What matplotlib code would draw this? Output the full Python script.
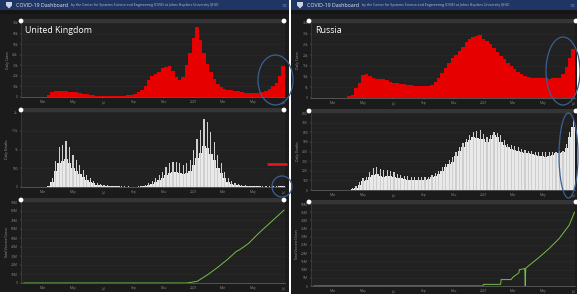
import numpy as np
import matplotlib
matplotlib.use("Agg")
import matplotlib.pyplot as plt
import matplotlib.dates as mdates
from matplotlib.patches import Rectangle, Ellipse, Circle, Polygon

# ---------------- data ----------------
# weekly bins (week starting Monday), Jan 20 2020 .. Jun 28 2021
week_start = "2020-01-20"
n_weeks = 76

uk_cases = [0, 0, 0, 0, 0, 0, 100, 1500, 4500, 5500, 5800, 5800, 5600, 5200, 4800, 4400,
            3900, 3300, 2800, 2200, 1700, 1400, 1200, 1000, 900, 850, 850, 900, 1000, 1200,
            1600, 2200, 3000, 4500, 6500, 10000, 16000, 20000, 22000, 24000, 27000, 28000,
            29000, 25000, 19000, 16000, 19000, 30000, 42000, 56000, 66000, 54000, 42000,
            31000, 24000, 17000, 12000, 9500, 8000, 7000, 6500, 6000, 5500, 4500, 4000, 3800,
            3800, 4000, 4200, 4800, 6000, 8000, 10000, 13000, 20000, 29000]

uk_deaths_peak = [0, 0, 0, 0, 0, 0, 5, 40, 250, 700, 1070, 1110, 1230, 1070, 850, 720, 590,
                  455, 330, 240, 165, 110, 90, 60, 50, 40, 30, 25, 20, 15, 15, 12, 12, 15, 25,
                  50, 100, 150, 240, 325, 410, 545, 630, 675, 675, 630, 590, 630, 720, 980,
                  1290, 1510, 1815, 1730, 1465, 1200, 850, 630, 410, 240, 150, 105, 80, 60, 50,
                  40, 35, 30, 25, 20, 18, 15, 18, 20, 25, 30]
uk_deaths_base = [0, 0, 0, 0, 0, 0, 2, 20, 130, 420, 650, 700, 750, 650, 520, 430, 350, 270,
                  200, 140, 100, 65, 50, 35, 30, 22, 18, 15, 12, 9, 9, 7, 7, 9, 15, 30, 60, 90,
                  145, 200, 250, 330, 380, 410, 410, 380, 350, 380, 430, 590, 780, 910, 1090,
                  1040, 880, 720, 510, 380, 250, 145, 90, 60, 45, 35, 30, 24, 20, 18, 15, 12,
                  10, 9, 10, 12, 15, 18]

ru_cases = [0, 0, 0, 0, 0, 0, 0, 0, 30, 150, 700, 1500, 4500, 7000, 10500, 11400, 10300,
            9300, 9000, 8900, 8800, 8300, 7600, 7000, 6800, 6600, 6300, 6000, 5900, 5700, 5500,
            5400, 5500, 5600, 6000, 7500, 9500, 11500, 14000, 16500, 18500, 20000, 22000,
            24000, 26000, 27500, 28500, 29000, 29500, 27500, 26500, 25000, 23500, 21500,
            19500, 18000, 16500, 15000, 13500, 12000, 11000, 10300, 9800, 9400, 9200, 9100,
            9100, 9100, 9000, 9100, 9100, 9500, 11000, 14500, 18500, 23000]

ru_deaths_peak = [0, 0, 0, 0, 0, 0, 0, 0, 0, 1, 5, 20, 40, 80, 120, 140, 190, 225, 240, 220,
                  207, 205, 200, 185, 170, 155, 150, 145, 140, 135, 130, 130, 135, 140, 155,
                  175, 200, 240, 275, 310, 345, 400, 450, 490, 535, 570, 600, 610, 620, 580,
                  550, 570, 600, 590, 570, 520, 480, 470, 460, 450, 430, 415, 410, 405, 400,
                  400, 400, 400, 400, 400, 400, 405, 410, 480, 600, 725]
ru_deaths_base = [0, 0, 0, 0, 0, 0, 0, 0, 0, 0, 2, 10, 25, 50, 90, 100, 140, 160, 170, 150,
                  140, 145, 145, 135, 125, 120, 115, 105, 100, 100, 100, 100, 105, 115, 130,
                  145, 170, 200, 240, 265, 290, 350, 410, 450, 500, 520, 550, 545, 535, 530,
                  500, 530, 570, 550, 500, 470, 450, 430, 420, 410, 395, 385, 380, 370, 360,
                  355, 350, 345, 350, 360, 380, 385, 390, 440, 550, 655]

# cumulative vaccine doses (millions)
uk_vax_dates = ["2020-01-22", "2020-12-18", "2021-01-08", "2021-01-31", "2021-02-21",
                "2021-03-12", "2021-03-28", "2021-04-04", "2021-04-22", "2021-05-12",
                "2021-06-01", "2021-06-17", "2021-07-03"]
uk_vax = [0, 0, 1.9, 10, 18.5, 27, 35, 37, 44, 55, 65, 73, 81]

ru_vax_dates = ["2020-01-22", "2020-12-30", "2020-12-31", "2021-02-04", "2021-02-05",
                "2021-02-25", "2021-03-01", "2021-03-13", "2021-03-14", "2021-03-25",
                "2021-03-26", "2021-03-27", "2021-04-24", "2021-05-14", "2021-06-03",
                "2021-06-23", "2021-07-04"]
ru_vax = [0, 0, 1.0, 1.0, 3.9, 3.9, 5.4, 8.0, 10.0, 10.6, 0, 10.9, 17.7, 23, 29, 37, 45]

x_tick_dates = ["2020-03-01", "2020-05-01", "2020-07-01", "2020-09-01", "2020-11-01",
                "2021-01-01", "2021-03-01", "2021-05-01", "2021-07-01"]
x_tick_labels = ["Mar", "May", "Jul", "Sep", "Nov", "2021", "Mar", "May", "Jul"]

uk_case_ticks = [0, 10000, 20000, 30000, 40000, 50000, 60000, 70000]
uk_case_labels = ["0", "10k", "20k", "30k", "40k", "50k", "60k", "70k"]
uk_death_ticks = [0, 500, 1000, 1500, 2000]
uk_death_labels = ["0", "500", "1k", "1.5k", "2k"]
uk_vax_ticks = [0, 10, 20, 30, 40, 50, 60, 70, 80, 90]
uk_vax_labels = ["0", "10M", "20M", "30M", "40M", "50M", "60M", "70M", "80M", "90M"]
ru_case_ticks = [0, 5000, 10000, 15000, 20000, 25000, 30000, 35000]
ru_case_labels = ["0", "5k", "10k", "15k", "20k", "25k", "30k", "35k"]
ru_death_ticks = [0, 100, 200, 300, 400, 500, 600, 700, 800]
ru_death_labels = ["0", "100", "200", "300", "400", "500", "600", "700", "800"]
ru_vax_ticks = [0, 5, 10, 15, 20, 25, 30, 35, 40, 45, 50]
ru_vax_labels = ["0", "5M", "10M", "15M", "20M", "25M", "30M", "35M", "40M", "45M", "50M"]

# ---------------- helpers ----------------
W, H = 580, 294
weeks = mdates.date2num(np.datetime64(week_start) + np.arange(n_weeks) * np.timedelta64(7, "D"))
xmin = mdates.date2num(np.datetime64("2020-01-16"))
xmax = mdates.date2num(np.datetime64("2021-07-05"))
xt = mdates.date2num(np.array(x_tick_dates, dtype="datetime64[D]"))

fig = plt.figure(figsize=(W / 100, H / 100), dpi=100, facecolor="white")
plt.rcParams["font.family"] = ["Open Sans", "DejaVu Sans"]

bg = fig.add_axes([0, 0, 1, 1])
bg.set_xlim(0, W)
bg.set_ylim(H, 0)
bg.axis("off")

PANEL = "#1b1b1b"
HEAD = "#1f3563"
for (x0, x1, y1) in [(0, 289, 292), (291, 577, 294)]:
    bg.add_patch(Rectangle((x0, 0), x1 - x0, y1, color=PANEL, lw=0))
    bg.add_patch(Rectangle((x0, 0), x1 - x0, 10, color=HEAD, lw=0))
    bg.add_patch(Rectangle((x0, 10), x1 - x0, 4, color="#141414", lw=0))
    # shield logo
    sx = x0 + 6
    bg.add_patch(Polygon([[sx, 2], [sx + 6, 2], [sx + 6, 5.5], [sx + 3, 8.5], [sx, 5.5]],
                         closed=True, fc="#c9d3e6", ec="none"))
    bg.text(x0 + 16, 5.2, "COVID-19 Dashboard", color="#e8ecf4", fontsize=3.8,
            va="center", ha="left")
    bg.text(x0 + 71, 5.4, "by the Center for Systems Science and Engineering (CSSE) at Johns Hopkins University (JHU)",
            color="#b9c3d8", fontsize=2.5, va="center", ha="left")
    bg.text(x1 - 5, 5.2, "\u2261", color="#5c6f96", fontsize=4.5, va="center", ha="center")


def ax_at(x0, y0, x1, y1):
    return fig.add_axes([x0 / W, 1 - y1 / H, (x1 - x0) / W, (y1 - y0) / H])


def style(ax, yt, yl, ylabel):
    ax.set_facecolor("#212121")
    ax.set_xlim(xmin, xmax)
    ax.set_ylim(0, yt[-1])
    ax.set_yticks(yt)
    ax.set_yticklabels(yl)
    ax.set_xticks(xt)
    ax.set_xticklabels(x_tick_labels)
    ax.tick_params(labelsize=2.4, colors="#8a8a8a", length=1, width=0.3, pad=1.2)
    for s in ["top", "right"]:
        ax.spines[s].set_visible(False)
    ax.spines["left"].set_color("#4a4a4a")
    ax.spines["left"].set_linewidth(0.4)
    ax.spines["bottom"].set_color("#6a6a6a")
    ax.spines["bottom"].set_linewidth(0.5)
    ax.grid(axis="y", color="#2b2b2b", lw=0.4)
    ax.set_axisbelow(True)
    ax.set_ylabel(ylabel, fontsize=2.4, color="#9a9a9a", labelpad=1.5)


def cases(ax, vals):
    ax.bar(weeks + 3.5, vals, width=7.4, color="#e60000", lw=0)


def deaths(ax, base, peak):
    ax.bar(weeks + 3.5, base, width=7.4, color="#e9e9e9", lw=0)
    ax.bar(weeks + 3.5, peak, width=2.4, color="#cfcfcf", lw=0)


def vax(ax, dates, vals):
    d = mdates.date2num(np.array(dates, dtype="datetime64[D]"))
    ax.plot(d, vals, color="#74c043", lw=0.7)


# UK
a = ax_at(21, 23, 285, 97)
style(a, uk_case_ticks, uk_case_labels, "Daily Cases")
cases(a, uk_cases)
a = ax_at(21, 112, 285, 187)
style(a, uk_death_ticks, uk_death_labels, "Daily Deaths")
deaths(a, uk_deaths_base, uk_deaths_peak)
a = ax_at(21, 202, 285, 283)
style(a, uk_vax_ticks, uk_vax_labels, "Total Vaccine Doses")
vax(a, uk_vax_dates, uk_vax)

# Russia
a = ax_at(311, 23, 575, 98)
style(a, ru_case_ticks, ru_case_labels, "Daily Cases")
cases(a, ru_cases)
a = ax_at(311, 113, 575, 190)
style(a, ru_death_ticks, ru_death_labels, "Daily Deaths")
deaths(a, ru_deaths_base, ru_deaths_peak)
a = ax_at(311, 204, 575, 286)
style(a, ru_vax_ticks, ru_vax_labels, "Total Vaccine Doses")
vax(a, ru_vax_dates, ru_vax)

# overlay: sliders, titles, annotations
ov = fig.add_axes([0, 0, 1, 1], zorder=10)
ov.set_xlim(0, W)
ov.set_ylim(H, 0)
ov.axis("off")
ov.patch.set_alpha(0)
for (xa, xb, y) in [(21, 284, 21), (21, 284, 110), (21, 284, 200),
                    (309, 576, 21), (309, 576, 111), (309, 576, 202)]:
    ov.add_patch(Rectangle((xa, y - 2), xb - xa, 4, color="#353535", lw=0))
    ov.add_patch(Circle((xa, y), 2.4, color="white", lw=0))
    ov.add_patch(Circle((xb, y), 2.4, color="white", lw=0))

ov.text(25, 30.5, "United Kingdom", color="white", fontsize=6.4, va="center", ha="left")
ov.text(315, 30.5, "Russia", color="white", fontsize=6.4, va="center", ha="left")

ov.plot([267, 287], [164, 164], color="#e8141b", lw=1.9, solid_capstyle="butt")

EC = "#3d5f94"
for (cx, cy, w, h) in [(275.5, 80, 35, 50), (563, 71, 34, 68), (282, 186.5, 20, 21),
                       (568.5, 155.5, 19, 85)]:
    ov.add_patch(Ellipse((cx, cy), w, h, fill=False, ec=EC, lw=0.9))

fig.savefig("out.png", dpi=100, facecolor=fig.get_facecolor())
